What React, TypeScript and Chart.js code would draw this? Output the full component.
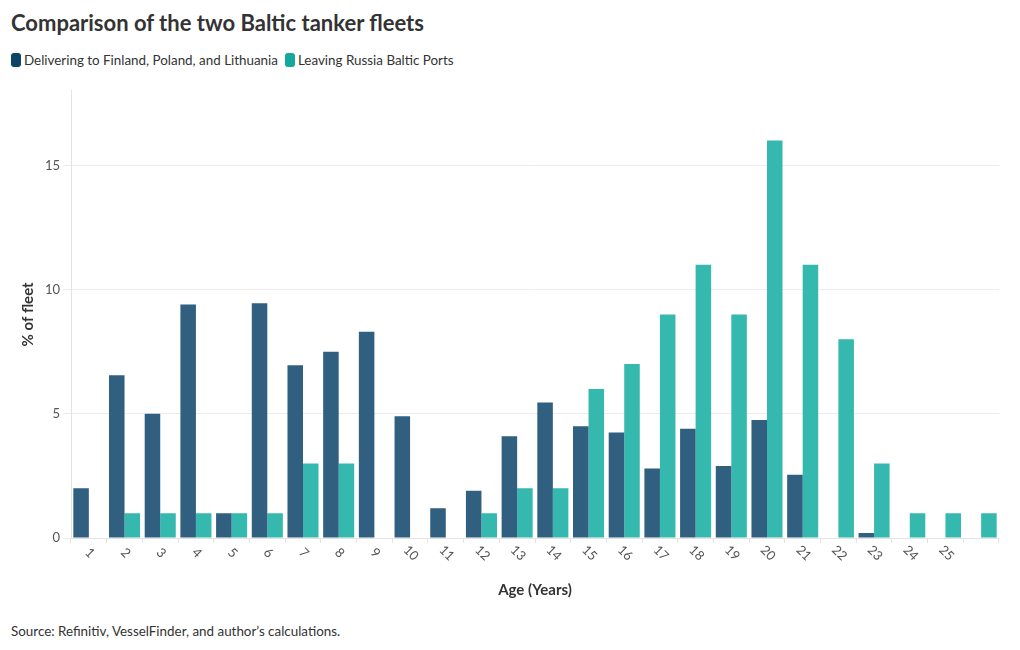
import React, { useEffect, useRef } from "react";
import { Chart, registerables } from "chart.js";

Chart.register(...registerables);

const categories = ["1","2","3","4","5","6","7","8","9","10","11","12","13","14","15","16","17","18","19","20","21","22","23","24","25",""];
const deliveringFPL = [2, 6.55, 5, 9.4, 1, 9.45, 6.95, 7.5, 8.3, 4.9, 1.2, 1.9, 4.1, 5.45, 4.5, 4.25, 2.8, 4.4, 2.9, 4.75, 2.55, 0, 0.2, 0, 0, 0];
const leavingRussia = [0, 1, 1, 1, 1, 1, 3, 3, 0, 0, 0, 1, 2, 2, 6, 7, 9, 11, 9, 16, 11, 8, 3, 1, 1, 1];
const seriesNames = ["Delivering to Finland, Poland, and Lithuania", "Leaving Russia Baltic Ports"];
const legendColors = ["#0e4466", "#14a89e"];
const barColors = ["#305f80", "#35b8ae"];

const FONT = "Lato, 'Noto Sans', sans-serif";

const rotatedLabels = {
  id: "rotatedLabels",
  afterDraw(chart: any) {
    const xs = chart.scales.x;
    const ctx = chart.ctx;
    ctx.save();
    ctx.font = `13px ${FONT}`;
    ctx.fillStyle = "#555";
    ctx.textAlign = "center";
    ctx.textBaseline = "middle";
    categories.forEach((c, i) => {
      if (!c) return;
      const x = xs.getPixelForValue(i);
      ctx.save();
      ctx.translate(x + 1, xs.top + 15);
      ctx.rotate(Math.PI / 4);
      ctx.fillText(c, 0, 0);
      ctx.restore();
    });
    ctx.restore();
  },
};

export default function App() {
  const ref = useRef<HTMLCanvasElement>(null);
  useEffect(() => {
    const chart = new Chart(ref.current!, {
      type: "bar",
      data: {
        labels: categories,
        datasets: [
          { label: seriesNames[0], data: deliveringFPL, backgroundColor: barColors[0], barPercentage: 1, categoryPercentage: 0.87 },
          { label: seriesNames[1], data: leavingRussia, backgroundColor: barColors[1], barPercentage: 1, categoryPercentage: 0.87 },
        ],
      },
      options: {
        animation: false,
        responsive: false,
        layout: { padding: { top: 10, right: 21, left: 0, bottom: 0 } },
        plugins: { legend: { display: false }, tooltip: { enabled: false } },
        scales: {
          x: {
            grid: { drawOnChartArea: false, drawTicks: true, tickLength: 5, color: "#e3e3e3" },
            border: { display: true, color: "#e3e3e3" },
            ticks: { display: false },
            title: { display: true, text: "Age (Years)", color: "#333", font: { family: FONT, size: 15, weight: "bold" }, padding: { top: 0, bottom: 6 } },
            afterFit: (s: any) => { s.height = 67; },
          },
          y: {
            min: 0,
            max: 18,
            ticks: { stepSize: 5, color: "#555", padding: 3, font: { family: FONT, size: 13 } },
            afterBuildTicks: (s: any) => { s.ticks = s.ticks.filter((t: any) => t.value % 5 === 0); },
            grid: { color: "#ececec", tickLength: 8 },
            border: { display: true, color: "#e3e3e3" },
            title: { display: true, text: "% of fleet", color: "#333", font: { family: FONT, size: 15, weight: "bold" }, padding: { top: 19, bottom: 0 } },
            afterFit: (s: any) => { s.width = 71; },
          },
        },
      },
      plugins: [rotatedLabels],
    });
    return () => chart.destroy();
  }, []);

  return (
    <div style={{ position: "absolute", left: 0, top: 0, width: 1020, height: 650, background: "#fff", fontFamily: FONT, color: "#333" }}>
      <div style={{ position: "absolute", left: 11, top: 9, fontSize: 22, fontWeight: "bold", color: "#333", whiteSpace: "nowrap" }}>
        Comparison of the two Baltic tanker fleets
      </div>
      <div style={{ position: "absolute", left: 11, top: 52, display: "flex", alignItems: "center", fontSize: 13.4, color: "#333", whiteSpace: "nowrap" }}>
        {seriesNames.map((n, i) => (
          <span key={n} style={{ display: "inline-flex", alignItems: "center", marginRight: 7 }}>
            <span style={{ display: "inline-block", width: 10, height: 14, borderRadius: 3, background: legendColors[i], marginRight: 3 }} />
            {n}
          </span>
        ))}
      </div>
      <canvas ref={ref} width={1020} height={525} style={{ position: "absolute", left: 0, top: 80, width: 1020, height: 525 }} />
      <div style={{ position: "absolute", left: 11, top: 623, fontSize: 13.4, color: "#333", whiteSpace: "nowrap" }}>
        Source: Refinitiv, VesselFinder, and author’s calculations.
      </div>
    </div>
  );
}
